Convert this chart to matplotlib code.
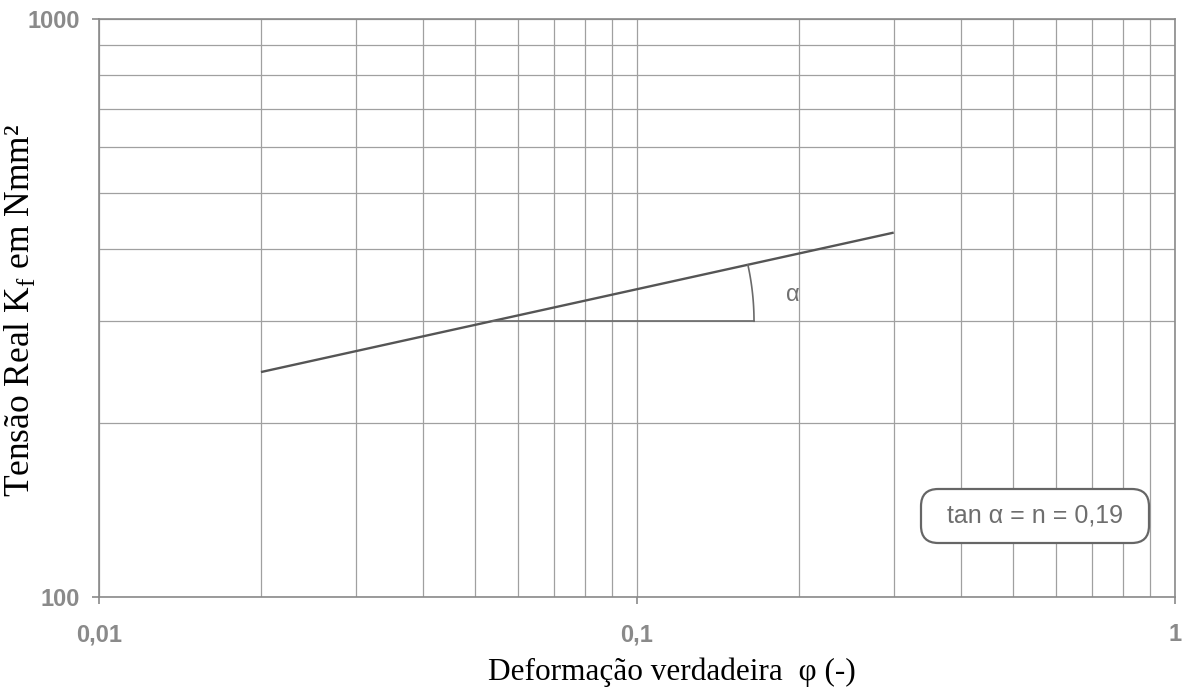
import numpy as np
import matplotlib
matplotlib.use("Agg")
import matplotlib.pyplot as plt
from matplotlib.patches import FancyBboxPatch
from matplotlib.ticker import FixedLocator, NullLocator

# ---- data ----
line_x = [0.02, 0.3]
line_y = [245, 427]
ref_y = 300          # horizontal reference level
arc_x = 0.165        # where the angle arc meets the horizontal line
x_major = [0.01, 0.1, 1]
x_major_labels = ["0,01", "0,1", "1"]
y_major = [100, 1000]
y_major_labels = ["100", "1000"]
x_grid = [0.01, 0.02, 0.03, 0.04, 0.05, 0.06, 0.07, 0.08, 0.09,
          0.1, 0.2, 0.3, 0.4, 0.5, 0.6, 0.7, 0.8, 0.9, 1.0]
y_grid = [100, 200, 300, 400, 500, 600, 700, 800, 900, 1000]
box_text = "tan α = n = 0,19"
xlabel = "Deformação verdadeira  φ (-)"
ylabel = "Tensão Real K$_\\mathregular{f}$ em Nmm²"

W, H = 1184, 689
fig = plt.figure(figsize=(W / 100, H / 100), dpi=100)
fig.patch.set_facecolor("white")
ax_l, ax_r, ax_t, ax_b = 99, 1175, 19, 597
ax = fig.add_axes([ax_l / W, 1 - ax_b / H, (ax_r - ax_l) / W, (ax_b - ax_t) / H])
ax.set_xscale("log")
ax.set_yscale("log")
ax.set_xlim(0.01, 1)
ax.set_ylim(100, 1000)

grid_c = "#a0a0a0"
for gx in x_grid:
    ax.axvline(gx, color=grid_c, lw=0.9, zorder=1)
for gy in y_grid:
    ax.axhline(gy, color=grid_c, lw=0.9, zorder=1)

for s in ax.spines.values():
    s.set_color("#8a8a8a")
    s.set_linewidth(1.2)

ax.xaxis.set_major_locator(FixedLocator(x_major))
ax.xaxis.set_minor_locator(NullLocator())
ax.yaxis.set_major_locator(FixedLocator(y_major))
ax.yaxis.set_minor_locator(NullLocator())
ax.set_xticklabels(x_major_labels)
ax.set_yticklabels(y_major_labels)
ax.tick_params(axis="both", direction="out", length=5, width=1.2, color="#8a8a8a",
               labelcolor="#8a8a8a", labelsize=17)
ax.tick_params(axis="x", pad=14)
ax.tick_params(axis="y", pad=9)
for lab in ax.get_xticklabels() + ax.get_yticklabels():
    lab.set_fontfamily("Liberation Sans")
    lab.set_fontweight("bold")

# main line
ax.plot(line_x, line_y, color="#555555", lw=1.7, zorder=3, solid_capstyle="butt")

# intersection of line with reference level (log-log)
lx = np.log10(line_x)
ly = np.log10(line_y)
slope = (ly[1] - ly[0]) / (lx[1] - lx[0])
xi = 10 ** (lx[0] + (np.log10(ref_y) - ly[0]) / slope)
ax.plot([xi, arc_x], [ref_y, ref_y], color="#6a6a6a", lw=1.2, zorder=3)

# angle arc, computed in display space
fig.canvas.draw()
td = ax.transData
c = td.transform((xi, ref_y))
pe = td.transform((arc_x, ref_y))
p1 = td.transform((line_x[1], line_y[1]))
r = pe[0] - c[0]
theta = np.arctan2(p1[1] - c[1], p1[0] - c[0])
tt = np.linspace(0, theta, 40)
pts = np.column_stack([c[0] + r * np.cos(tt), c[1] + r * np.sin(tt)])
arc_data = td.inverted().transform(pts)
ax.plot(arc_data[:, 0], arc_data[:, 1], color="#6a6a6a", lw=1.2, zorder=3)

# alpha label
ax.text((793 - ax_l) / (ax_r - ax_l), (ax_b - 295) / (ax_b - ax_t), "α",
        transform=ax.transAxes, ha="center", va="center", fontsize=17,
        color="#707070", family="Liberation Sans")

# rounded box with tan alpha
axw, axh = ax_r - ax_l, ax_b - ax_t
bx0, bx1, by0, by1 = 921, 1149, 489, 543
box = FancyBboxPatch(((bx0 - ax_l) / axw, (ax_b - by1) / axh),
                     (bx1 - bx0) / axw, (by1 - by0) / axh,
                     boxstyle="round,pad=0,rounding_size=0.016",
                     mutation_aspect=axw / axh,
                     transform=ax.transAxes, facecolor="white",
                     edgecolor="#666666", lw=1.6, zorder=4)
ax.add_patch(box)
ax.text(((bx0 + bx1) / 2 - ax_l) / axw, (ax_b - (by0 + by1) / 2) / axh, box_text,
        transform=ax.transAxes, ha="center", va="center", fontsize=18,
        color="#6e6e6e", family="Liberation Sans", zorder=5)

# axis labels
fig.text(672 / W, 1 - 680 / H, xlabel, ha="center", va="baseline",
         fontsize=22.5, family="Liberation Serif", color="black")
fig.text(20 / W, 1 - 310 / H, ylabel, ha="center", va="center", rotation=90,
         fontsize=25.5, family="Liberation Serif", color="black")

fig.savefig("out.png", dpi=100, facecolor="white")
